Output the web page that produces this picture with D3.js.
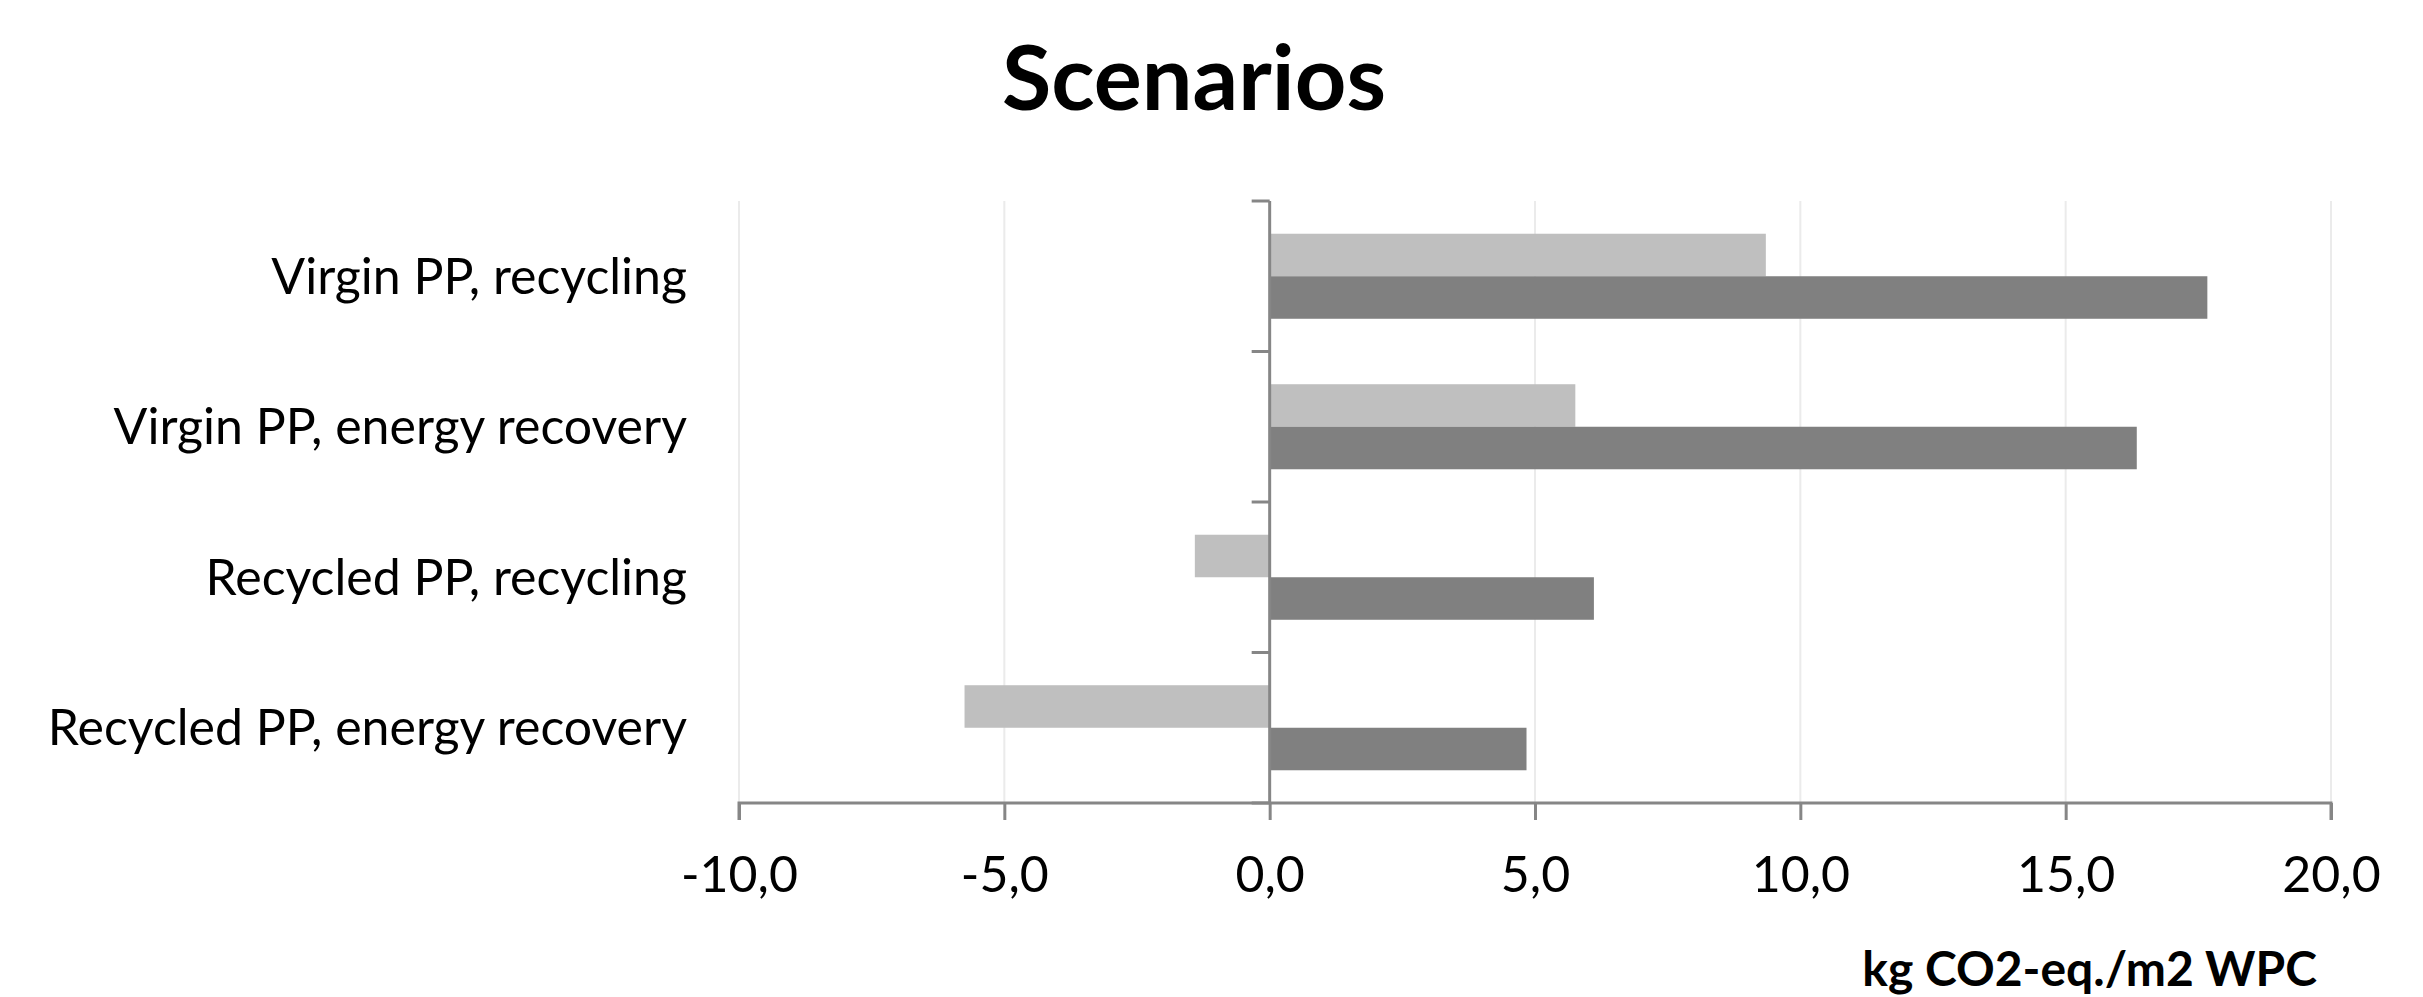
<!DOCTYPE html>
<html>
<head>
<meta charset="utf-8">
<script src="https://cdn.jsdelivr.net/npm/d3@7"></script>
<style>
  html, body { margin: 0; padding: 0; background: #ffffff; }
  svg { display: block; }
  text { font-family: Lato, "Open Sans", sans-serif; fill: #000; }
</style>
</head>
<body>
<svg id="chart" width="2423" height="997"></svg>
<script>
// ---- data ----
const categories = [
  "Virgin PP, recycling",
  "Virgin PP, energy recovery",
  "Recycled PP, recycling",
  "Recycled PP, energy recovery"
];
const seriesNames = ["Series 1", "Series 2"];
const seriesLight = [9.35, 5.76, -1.41, -5.75];
const seriesDark = [17.67, 16.34, 6.11, 4.84];
const xTicks = [-10, -5, 0, 5, 10, 15, 20];
const titleText = "Scenarios";
const xAxisTitle = "kg CO2-eq./m2 WPC";

// ---- layout ----
const W = 2423, H = 997;
const plot = { left: 739, right: 2331, top: 201, bottom: 803 };
const axisColor = "#868686";
const gridColor = "#ebebeb";
const colors = ["#bfbfbf", "#808080"];

const svg = d3.select("#chart");

const x = d3.scaleLinear().domain([-10, 20]).range([plot.left, plot.right]);
const y = d3.scaleBand().domain(categories).range([plot.top, plot.bottom])
  .paddingInner(0.435).paddingOuter(0.2175);
const ySub = d3.scaleBand().domain(seriesNames).range([0, y.bandwidth()]);

const locale = d3.formatLocale({ decimal: ",", thousands: ".", grouping: [3], currency: ["", ""], minus: "-" });
const fmt = locale.format(".1f");

// gridlines
svg.append("g").selectAll("line").data(xTicks.filter(d => d !== 0)).join("line")
  .attr("x1", d => x(d)).attr("x2", d => x(d))
  .attr("y1", plot.top).attr("y2", plot.bottom)
  .attr("stroke", gridColor).attr("stroke-width", 2);

// bars
const rows = categories.map((c, i) => ({ cat: c, values: [seriesLight[i], seriesDark[i]] }));
const g = svg.append("g");
rows.forEach(r => {
  r.values.forEach((v, j) => {
    g.append("rect")
      .attr("x", x(Math.min(0, v)))
      .attr("width", Math.abs(x(v) - x(0)))
      .attr("y", y(r.cat) + ySub(seriesNames[j]))
      .attr("height", ySub.bandwidth())
      .attr("fill", colors[j]);
  });
});

// x axis
const xAxis = d3.axisBottom(x).tickValues(xTicks).tickFormat(fmt).tickSize(17).tickSizeOuter(17).tickPadding(36);
const xg = svg.append("g").attr("transform", `translate(0,${plot.bottom})`).call(xAxis);
xg.select(".domain").attr("stroke", axisColor).attr("stroke-width", 3)
  .attr("d", `M${plot.left},17V0H${plot.right}V17`);
xg.selectAll(".tick line").attr("stroke", axisColor).attr("stroke-width", 3);
xg.selectAll(".tick text").attr("font-size", 50).attr("fill", "#000")
  .attr("font-family", "Lato, 'Open Sans', sans-serif").attr("dy", "0.72em");

// y axis at zero
const yTickPos = y.domain().map(c => y(c) - (y.step() - y.bandwidth()) / 2);
yTickPos.push(plot.bottom);
const yg = svg.append("g");
yg.append("line").attr("x1", x(0)).attr("x2", x(0)).attr("y1", plot.top).attr("y2", plot.bottom)
  .attr("stroke", axisColor).attr("stroke-width", 3);
yg.selectAll("line.tk").data(yTickPos).join("line").attr("class", "tk")
  .attr("x1", x(0) - 18).attr("x2", x(0)).attr("y1", d => d).attr("y2", d => d)
  .attr("stroke", axisColor).attr("stroke-width", 3);

// category labels
svg.append("g").selectAll("text").data(categories).join("text")
  .attr("x", plot.left - 52)
  .attr("y", d => y(d) + y.bandwidth() / 2)
  .attr("dy", "0.35em")
  .attr("text-anchor", "end")
  .attr("font-size", 50)
  .text(d => d);

// title
svg.append("text").attr("x", 1194).attr("y", 110).attr("text-anchor", "middle")
  .attr("font-size", 90).attr("font-weight", "bold").text(titleText);

// axis title
svg.append("text").attr("x", 2317).attr("y", 986).attr("text-anchor", "end")
  .attr("font-size", 48).attr("font-weight", "bold").text(xAxisTitle);
</script>
</body>
</html>
